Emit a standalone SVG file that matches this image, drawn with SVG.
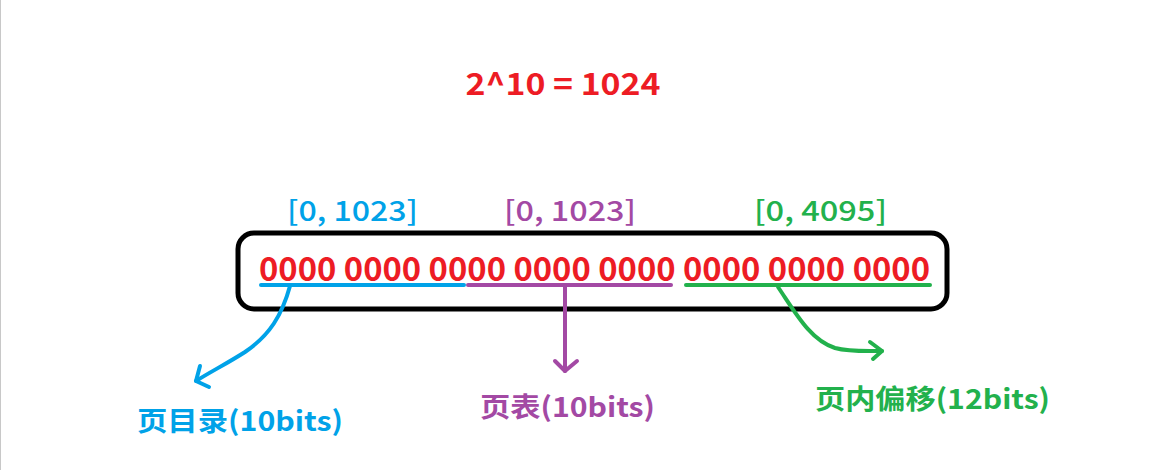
<svg xmlns="http://www.w3.org/2000/svg" width="1158" height="470" viewBox="0 0 1158 470">
<style>
text{font-family:"Noto Sans CJK SC","Microsoft YaHei","Noto Sans",sans-serif;}
.b{font-weight:bold;}
.m{font-weight:500;}
.red{fill:#ED1C24;} .blue{fill:#00A2E8;} .purple{fill:#A349A4;} .green{fill:#22B14C;}
.ln{fill:none;stroke-width:4;stroke-linecap:round;stroke-linejoin:round;}
</style>
<rect x="0" y="0" width="1158" height="470" fill="#ffffff"/>
<line x1="0.5" y1="0" x2="0.5" y2="470" stroke="#c8c8c8" stroke-width="1"/>
<g id="title">
<text class="b red" x="563" y="95" font-size="30" text-anchor="middle" textLength="195" lengthAdjust="spacingAndGlyphs">2^10 = 1024</text>
</g>
<g id="address">
<rect x="238" y="233" width="709" height="76" rx="16" ry="16" fill="none" stroke="#000" stroke-width="5"/>
<text class="b red" x="259" y="281" font-size="33" textLength="671" lengthAdjust="spacingAndGlyphs">0000 0000 0000 0000 0000 0000 0000 0000</text>
</g>
<g id="range-dir"><text class="m blue" x="287" y="221" font-size="28" textLength="131" lengthAdjust="spacingAndGlyphs">[0, 1023]</text></g>
<g id="range-pt"><text class="m purple" x="504" y="221" font-size="28" textLength="132" lengthAdjust="spacingAndGlyphs">[0, 1023]</text></g>
<g id="range-off"><text class="m green" x="754" y="221" font-size="28" textLength="133" lengthAdjust="spacingAndGlyphs">[0, 4095]</text></g>
<g id="connectors">
<line class="ln" x1="261" y1="285" x2="464" y2="285" stroke="#00A2E8"/>
<line class="ln" x1="468" y1="285" x2="671" y2="285" stroke="#A349A4"/>
<line class="ln" x1="686" y1="285" x2="930" y2="285" stroke="#22B14C"/>
<path class="ln" stroke="#00A2E8" d="M290,286 C282,315 270,335 245,352 C228,363 210,372 196,381"/>
<path class="ln" stroke="#00A2E8" d="M200,366 L196,381 L209,387"/>
<path class="ln" stroke="#A349A4" d="M565,286 L565,371"/>
<path class="ln" stroke="#A349A4" d="M555,361 L565,371 L577,361"/>
<path class="ln" stroke="#22B14C" d="M778,287 C795,312 810,340 835,348 C850,352 865,351 882,351"/>
<path class="ln" stroke="#22B14C" d="M870,342 L882,351 L873,359"/>
</g>
<g id="label-dir"><text class="b blue" x="137" y="431" font-size="27" textLength="206" lengthAdjust="spacingAndGlyphs">页目录(10bits)</text></g>
<g id="label-pt"><text class="b purple" x="480" y="417" font-size="27" textLength="175" lengthAdjust="spacingAndGlyphs">页表(10bits)</text></g>
<g id="label-off"><text class="b green" x="815" y="409" font-size="27" textLength="235" lengthAdjust="spacingAndGlyphs">页内偏移(12bits)</text></g>
</svg>
